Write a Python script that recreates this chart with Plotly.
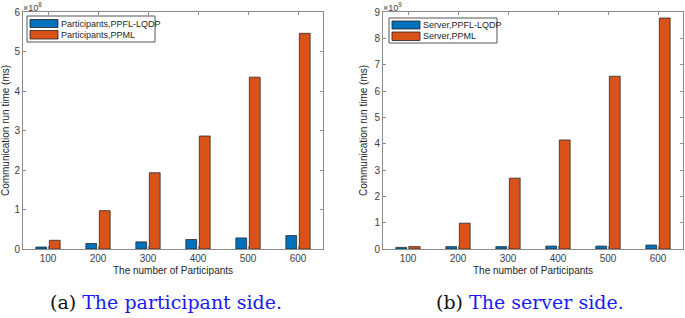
import plotly.graph_objects as go

categories = ["100", "200", "300", "400", "500", "600"]
part_lqdp = [0.05, 0.14, 0.18, 0.24, 0.28, 0.34]   # x1e8
part_ppml = [0.22, 0.97, 1.93, 2.86, 4.35, 5.46]   # x1e8
serv_lqdp = [0.06, 0.09, 0.09, 0.11, 0.11, 0.15]   # x1e9
serv_ppml = [0.09, 0.98, 2.69, 4.14, 6.56, 8.77]   # x1e9
left_names = ["Participants,PPFL-LQDP", "Participants,PPML"]
right_names = ["Server,PPFL-LQDP", "Server,PPML"]

BLUE = "#0072BD"
ORANGE = "#D95319"
W, H = 685, 318
AX = "#8c8c8c"
TXT = "#404040"
SANS = "Liberation Sans, Arial"

fig = go.Figure()
line = dict(color="#2a2a2a", width=0.8)
fig.add_trace(go.Bar(x=categories, y=part_lqdp, name=left_names[0],
                     marker=dict(color=BLUE, line=line), xaxis="x", yaxis="y"))
fig.add_trace(go.Bar(x=categories, y=part_ppml, name=left_names[1],
                     marker=dict(color=ORANGE, line=line), xaxis="x", yaxis="y"))
fig.add_trace(go.Bar(x=categories, y=serv_lqdp, name=right_names[0],
                     marker=dict(color=BLUE, line=line), xaxis="x2", yaxis="y2"))
fig.add_trace(go.Bar(x=categories, y=serv_ppml, name=right_names[1],
                     marker=dict(color=ORANGE, line=line), xaxis="x2", yaxis="y2"))

ydom = [(H - 249) / H, (H - 12) / H]
common_x = dict(type="category", range=[-0.5, 5.5], showline=True, linecolor=AX, linewidth=1,
                mirror="ticks", ticks="inside", ticklen=3, tickcolor=AX, automargin=False,
                tickfont=dict(family=SANS, size=10, color=TXT),
                title=dict(text="The number of Participants", standoff=3,
                           font=dict(family=SANS, size=10, color="#262626")),
                showgrid=False, zeroline=False, fixedrange=True)
common_y = dict(showline=True, linecolor=AX, linewidth=1, mirror="ticks", ticks="inside",
                ticklen=3, tickcolor=AX, dtick=1, automargin=False,
                tickfont=dict(family=SANS, size=10, color=TXT),
                title=dict(text="Communication run time (ms)", standoff=4,
                           font=dict(family=SANS, size=10, color="#262626")),
                showgrid=False, zeroline=False, domain=ydom)

fig.update_layout(
    width=W, height=H,
    margin=dict(l=0, r=0, t=0, b=0, autoexpand=False),
    paper_bgcolor="white", plot_bgcolor="white",
    barmode="group", bargap=0.46, bargroupgap=0.2,
    xaxis=dict(common_x, domain=[23 / W, 323 / W], anchor="y"),
    yaxis=dict(common_y, range=[0, 6], anchor="x"),
    xaxis2=dict(common_x, domain=[383 / W, 683 / W], anchor="y2"),
    yaxis2=dict(common_y, range=[0, 9], anchor="x2"),
    showlegend=False,
)

# manual MATLAB-style legends (box, wide swatches, labels)
def add_legend(x0, y0, x1, y1, names, colors, sw_rows):
    fig.add_shape(type="rect", xref="paper", yref="paper",
                  x0=x0 / W, x1=x1 / W, y0=1 - y1 / H, y1=1 - y0 / H,
                  line=dict(color="#555", width=1), fillcolor="white", layer="above")
    for name, col, (ya, yb) in zip(names, colors, sw_rows):
        fig.add_shape(type="rect", xref="paper", yref="paper",
                      x0=(x0 + 3) / W, x1=(x0 + 31) / W, y0=1 - yb / H, y1=1 - ya / H,
                      line=dict(color="#222", width=0.8), fillcolor=col, layer="above")
        fig.add_annotation(text=name, xref="paper", yref="paper",
                           x=(x0 + 32) / W, y=1 - (ya + yb) / 2 / H,
                           xanchor="left", yanchor="middle", showarrow=False,
                           font=dict(family=SANS, size=9, color="#262626"))

add_legend(27, 16, 155, 42, left_names, [BLUE, ORANGE], [(19.5, 27.5), (30.5, 39)])
add_legend(389, 18, 497, 43, right_names, [BLUE, ORANGE], [(21, 29), (32, 40.5)])

ann_font = dict(family=SANS, size=9, color=TXT)
fig.add_annotation(text="×10<sup>8</sup>", xref="paper", yref="paper", x=22 / W, y=1,
                   xanchor="left", yanchor="top", showarrow=False, font=ann_font,
                   borderpad=0)
fig.add_annotation(text="×10<sup>9</sup>", xref="paper", yref="paper", x=382 / W, y=1,
                   xanchor="left", yanchor="top", showarrow=False, font=ann_font,
                   borderpad=0)

cap_font = dict(family="DejaVu Serif, Liberation Serif, serif", size=19, color="#1a1aee")
fig.add_annotation(text="<span style='color:#111'>(a)</span> The participant side.",
                   xref="paper", yref="paper", x=166 / W, y=1 - 302 / H, xanchor="center",
                   yanchor="middle", showarrow=False, font=cap_font)
fig.add_annotation(text="<span style='color:#111'>(b)</span> The server side.",
                   xref="paper", yref="paper", x=530 / W, y=1 - 302 / H, xanchor="center",
                   yanchor="middle", showarrow=False, font=cap_font)

fig.write_html("out.html", config={"displayModeBar": False},
               post_script="document.body.style.margin='0';document.body.style.overflow='hidden';")
